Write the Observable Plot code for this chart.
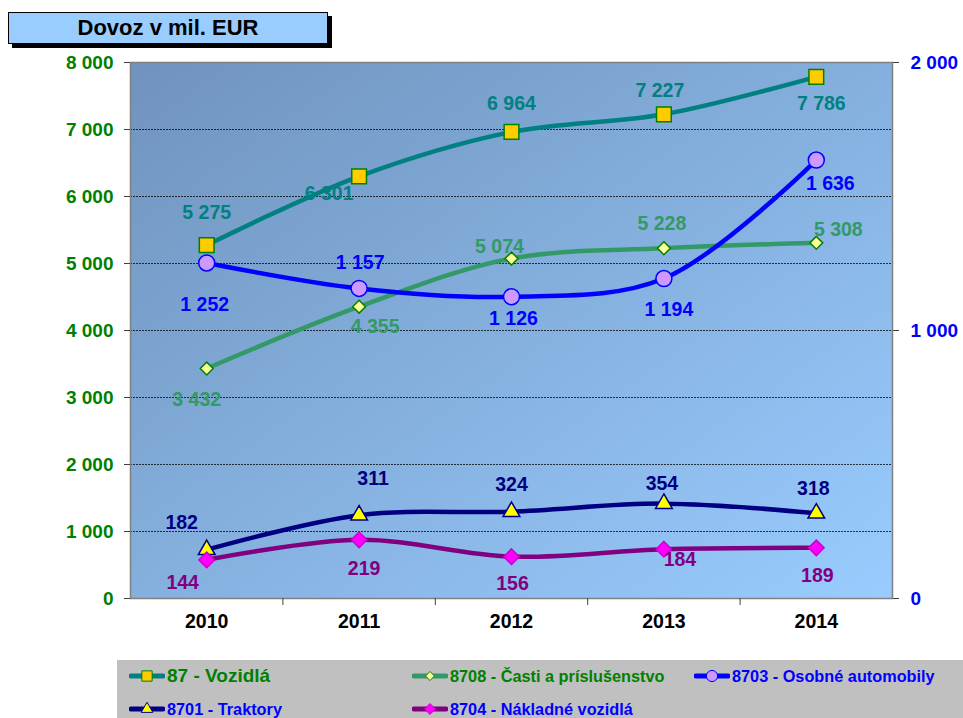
<!DOCTYPE html>
<html>
<head>
<meta charset="utf-8">
<script src="https://cdn.jsdelivr.net/npm/d3@7"></script>
<script src="https://cdn.jsdelivr.net/npm/@observablehq/plot@0.6"></script>
<style>
  html, body { margin: 0; padding: 0; background: #fff; }
  #wrap { position: relative; width: 963px; height: 718px; overflow: hidden; font-family: "Liberation Sans", Arial, sans-serif; }
  #title { position: absolute; left: 8px; top: 12px; width: 318px; height: 30px; background: #99ccff; border: 1px solid #000;
           box-shadow: 4px 4px 0 #000; font-weight: bold; font-size: 22px; text-align: center; line-height: 30px; color: #000; }
  #legend { position: absolute; left: 117px; top: 660px; width: 846px; height: 58px; background: #c0c0c0; }
  .lg { position: absolute; display: flex; align-items: center; white-space: nowrap;
        font-family: "Liberation Sans", Arial, sans-serif; font-weight: bold; }
  .lg svg { display: block; margin-right: 2px; }
</style>
</head>
<body>
<div id="wrap">
  <div id="chart"></div>
  <div id="title">Dovoz v mil. EUR</div>
  <div id="legend"></div>
</div>
<script>
// ---- data ----
const years = [2010, 2011, 2012, 2013, 2014];
const vozidla = [5275, 6301, 6964, 7227, 7786];      // 87 - Vozidlá (left axis)
const casti = [3432, 4355, 5074, 5228, 5308];        // 8708 (left axis)
const osobne = [1252, 1157, 1126, 1194, 1636];       // 8703 (right axis)
const traktory = [182, 311, 324, 354, 318];          // 8701 (right axis)
const nakladne = [144, 219, 156, 184, 189];          // 8704 (right axis)
const leftTicks = [0, 1000, 2000, 3000, 4000, 5000, 6000, 7000, 8000];
const rightTicks = [0, 1000, 2000];
const seriesNames = ["87 - Vozidlá", "8708 - Časti a príslušenstvo", "8703 - Osobné automobily", "8701 - Traktory", "8704 - Nákladné vozidlá"];

// ---- styling (separate from data) ----
const RATIO = 4; // right axis 0..2000 mapped onto left 0..8000
const fmt = v => d3.format(",")(v).replace(/,/g, " ");
const series = [
  {name: seriesNames[0], values: vozidla, right: false, line: "#008080", label: "#008080", symbol: "square", fill: "#ffcc00", stroke: "#008000", r: 8.3,
   off: [[0,-32],[-30,17],[0,-28],[-4,-24],[5,27]]},
  {name: seriesNames[1], values: casti, right: false, line: "#339966", label: "#339966", symbol: "diamond2", fill: "#ffff99", stroke: "#008000", r: 5.8,
   off: [[-10,31],[16,20],[-12,-12],[-2,-24],[22,-13]]},
  {name: seriesNames[2], values: osobne, right: true, line: "#0000ff", label: "#0000ff", symbol: "circle", fill: "#cc99ff", stroke: "#0000ff", r: 8,
   off: [[-2,42],[1,-26],[2,22],[5,31],[14,24]]},
  {name: seriesNames[3], values: traktory, right: true, line: "#000080", label: "#000080", symbol: "triangle", fill: "#ffff00", stroke: "#000080", r: 6.2,
   off: [[-25,-27],[14,-36],[0,-27],[-2,-20],[-3,-25]]},
  {name: seriesNames[4], values: nakladne, right: true, line: "#800080", label: "#800080", symbol: "diamond2", fill: "#ff00ff", stroke: "#cc00cc", r: 7,
   off: [[-24,23],[5,29],[1,27],[16,11],[1,28]]}
];

const marks = [
  Plot.frame({fill: "url(#bgGrad)"}),
  Plot.gridY({ticks: leftTicks.slice(1, -1), stroke: "#000", strokeOpacity: 0.75, strokeDasharray: "2,1", strokeWidth: 1}),
  Plot.frame({stroke: "#808080", strokeWidth: 1.5}),
  Plot.axisY({ticks: leftTicks, tickFormat: fmt, tickSize: 6, tickPadding: 11, stroke: "#404040",
              fill: "#008000", fontWeight: "bold", fontSize: 19, label: null}),
  Plot.axisY({anchor: "right", ticks: rightTicks.map(v => v * RATIO), tickFormat: v => fmt(v / RATIO), tickSize: 6, tickPadding: 12,
              stroke: "#404040", fill: "#0000ff", fontWeight: "bold", fontSize: 19, label: null}),
  Plot.axisX({ticks: years, tickFormat: "d", tickSize: 0, tickPadding: 16, fill: "#000", fontWeight: "bold", fontSize: 19.5, label: null}),
  Plot.axisX({ticks: years.slice(0, -1).map(y => y + 0.5), tickFormat: () => "", tickSize: 7, stroke: "#404040", label: null})
];

for (const s of series) {
  const data = years.map((yr, i) => ({year: yr, v: s.values[i], yv: s.values[i] * (s.right ? RATIO : 1), i}));
  marks.push(Plot.line(data, {x: "year", y: "yv", stroke: s.line, strokeWidth: 4.5, curve: "catmull-rom"}));
}
for (const s of series) {
  const data = years.map((yr, i) => ({year: yr, v: s.values[i], yv: s.values[i] * (s.right ? RATIO : 1), i}));
  marks.push(Plot.dot(data, {x: "year", y: "yv", symbol: () => s.symbol, r: s.r, fill: s.fill, stroke: s.stroke, strokeWidth: 1.5}));
}
for (const s of series) {
  years.forEach((yr, i) => {
    const d = {year: yr, v: s.values[i], yv: s.values[i] * (s.right ? RATIO : 1)};
    marks.push(Plot.text([d], {x: "year", y: "yv", text: d => fmt(d.v), dx: s.off[i][0], dy: s.off[i][1],
      fill: s.label, fontWeight: "bold", fontSize: 19.5, fontFamily: "Liberation Sans, Arial, sans-serif"}));
  });
}

const chart = Plot.plot({
  width: 963, height: 718,
  marginLeft: 130, marginRight: 71, marginTop: 62, marginBottom: 120,
  style: {fontFamily: "Liberation Sans, Arial, sans-serif", background: "transparent"},
  x: {domain: [2009.5, 2014.5]},
  y: {domain: [0, 8000]},
  symbol: {type: "identity"},
  marks
});

// gradient definition for plot background
const svg = d3.select(chart);
const defs = svg.insert("defs", ":first-child");
const g = defs.append("linearGradient").attr("id", "bgGrad").attr("x1", "0").attr("y1", "0").attr("x2", "1").attr("y2", "1");
g.append("stop").attr("offset", "0").attr("stop-color", "#7093bd");
g.append("stop").attr("offset", "1").attr("stop-color", "#99ccff");
document.getElementById("chart").appendChild(chart);

// ---- legend ----
const legendItems = [
  {s: series[0], left: 12, top: 4, color: "#008000", size: 19},
  {s: series[1], left: 295, top: 4, color: "#008000", size: 16.3},
  {s: series[2], left: 577, top: 4, color: "#0000ff", size: 16.3},
  {s: series[3], left: 12, top: 37, color: "#0000ff", size: 16.3},
  {s: series[4], left: 295, top: 37, color: "#0000ff", size: 16.3}
];
const legend = document.getElementById("legend");
const symMap = {square: d3.symbolSquare, diamond2: d3.symbolDiamond2, circle: d3.symbolCircle, triangle: d3.symbolTriangle};
for (const it of legendItems) {
  const div = document.createElement("div");
  div.className = "lg";
  div.style.left = it.left + "px";
  div.style.top = it.top + "px";
  div.style.height = "24px";
  const sv = d3.create("svg").attr("width", 36).attr("height", 20);
  sv.append("line").attr("x1", 2).attr("x2", 34).attr("y1", 10).attr("y2", 10).attr("stroke", it.s.line).attr("stroke-width", 5).attr("stroke-linecap", "round");
  sv.append("path").attr("transform", "translate(18,10)").attr("d", d3.symbol(symMap[it.s.symbol], Math.PI * Math.pow(it.s.r * 0.7, 2))())
    .attr("fill", it.s.fill).attr("stroke", it.s.stroke).attr("stroke-width", 1);
  div.appendChild(sv.node());
  const sp = document.createElement("span");
  sp.textContent = it.s.name;
  sp.style.color = it.color;
  sp.style.fontSize = it.size + "px";
  div.appendChild(sp);
  legend.appendChild(div);
}
</script>
</body>
</html>
